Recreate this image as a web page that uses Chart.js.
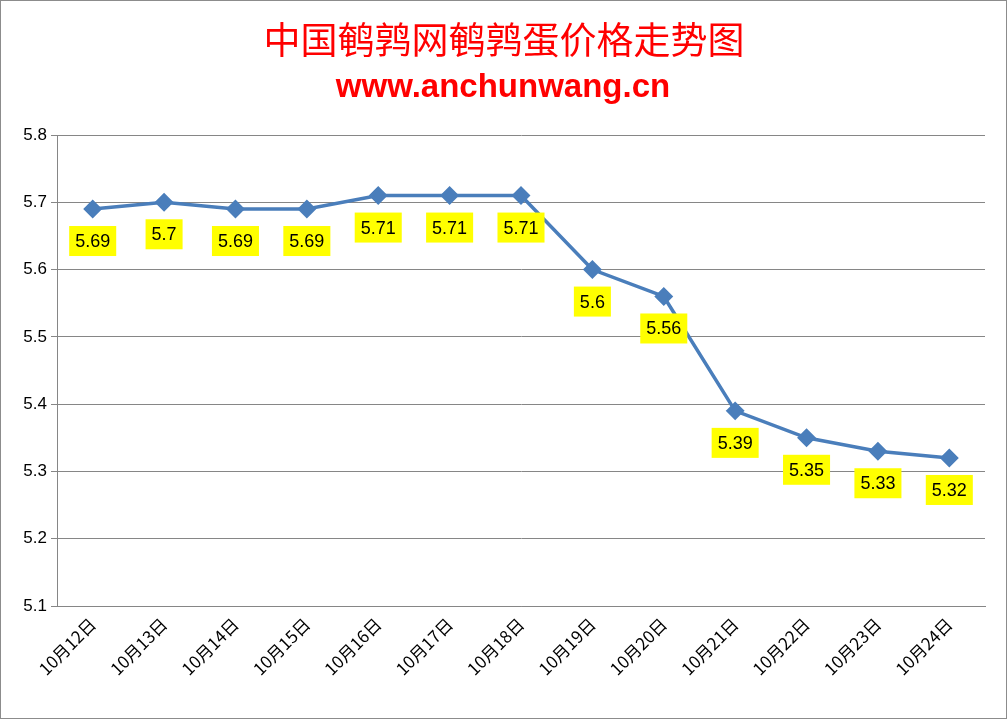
<!DOCTYPE html>
<html>
<head>
<meta charset="utf-8">
<script src="https://cdn.jsdelivr.net/npm/chart.js@4"></script>
<style>
  html, body { margin: 0; padding: 0; background: #fff; }
  #wrap { width: 1007px; height: 719px; position: relative; }
</style>
</head>
<body>
<div id="wrap"><canvas id="c"></canvas></div>
<script>
// --- Data ---
const dates = ['10月12日', '10月13日', '10月14日', '10月15日', '10月16日', '10月17日', '10月18日',
               '10月19日', '10月20日', '10月21日', '10月22日', '10月23日', '10月24日'];
const prices = [5.69, 5.7, 5.69, 5.69, 5.71, 5.71, 5.71, 5.6, 5.56, 5.39, 5.35, 5.33, 5.32];
const yTicks = [5.1, 5.2, 5.3, 5.4, 5.5, 5.6, 5.7, 5.8];

const FONT = '"Liberation Sans", Arial, sans-serif';

// titles, border and yellow value boxes
const decor = {
    id: 'decor',
    beforeDraw(chart) {
        const ctx = chart.ctx;
        ctx.save();
        ctx.fillStyle = '#fff';
        ctx.fillRect(0, 0, chart.width, chart.height);
        ctx.strokeStyle = '#8c8c8c';
        ctx.lineWidth = 1;
        ctx.strokeRect(0.5, 0.5, chart.width - 1, chart.height - 1);
        ctx.fillStyle = '#ff0000';
        ctx.textAlign = 'center';
        ctx.textBaseline = 'middle';
        ctx.font = '37px "Noto Sans CJK SC", sans-serif';
        ctx.fillText('中国鹌鹑网鹌鹑蛋价格走势图', 504, 40);
        ctx.font = 'bold 33px ' + FONT;
        ctx.fillText('www.anchunwang.cn', 503, 88);
        ctx.restore();
    },
    afterDatasetsDraw(chart) {
        const ctx = chart.ctx;
        const meta = chart.getDatasetMeta(0);
        ctx.save();
        ctx.font = '18px ' + FONT;
        ctx.textAlign = 'center';
        ctx.textBaseline = 'middle';
        meta.data.forEach((pt, i) => {
            const txt = String(prices[i]);
            const w = ctx.measureText(txt).width + 12;
            const h = 30;
            const cy = pt.y + 32;
            ctx.fillStyle = '#ffff00';
            ctx.fillRect(pt.x - w / 2, cy - h / 2, w, h);
            ctx.fillStyle = '#000';
            ctx.fillText(txt, pt.x, cy + 1);
        });
        ctx.restore();
    }
};

new Chart(document.getElementById('c'), {
    type: 'line',
    data: {
        labels: dates,
        datasets: [{
            data: prices,
            borderColor: '#4a7ebb',
            backgroundColor: '#4a7ebb',
            borderWidth: 3.5,
            pointStyle: 'rectRot',
            pointRadius: 7,
            pointHoverRadius: 7,
            tension: 0
        }]
    },
    options: {
        responsive: true,
        maintainAspectRatio: false,
        animation: false,
        layout: { padding: { top: 135, right: 22, left: 0, bottom: 0 } },
        plugins: { legend: { display: false }, tooltip: { enabled: false } },
        scales: {
            x: {
                offset: true,
                afterFit(scale) { scale.height = 719 - 606; },
                grid: { display: false, drawTicks: false },
                border: { color: '#868686' },
                ticks: {
                    color: '#000',
                    font: { size: 17, family: '"Noto Sans CJK SC", sans-serif' },
                    maxRotation: 45, minRotation: 45, padding: 8
                }
            },
            y: {
                min: 5.1, max: 5.8,
                afterFit(scale) { scale.width = 57; },
                afterBuildTicks(scale) { scale.ticks = yTicks.map(v => ({ value: v })); },
                grid: { color: '#868686', drawTicks: true, tickLength: 6, tickColor: '#868686' },
                border: { color: '#868686' },
                ticks: {
                    color: '#000',
                    font: { size: 17, family: FONT },
                    padding: 4,
                    callback: v => String(Math.round(v * 10) / 10)
                }
            }
        }
    },
    plugins: [decor]
});
</script>
</body>
</html>
